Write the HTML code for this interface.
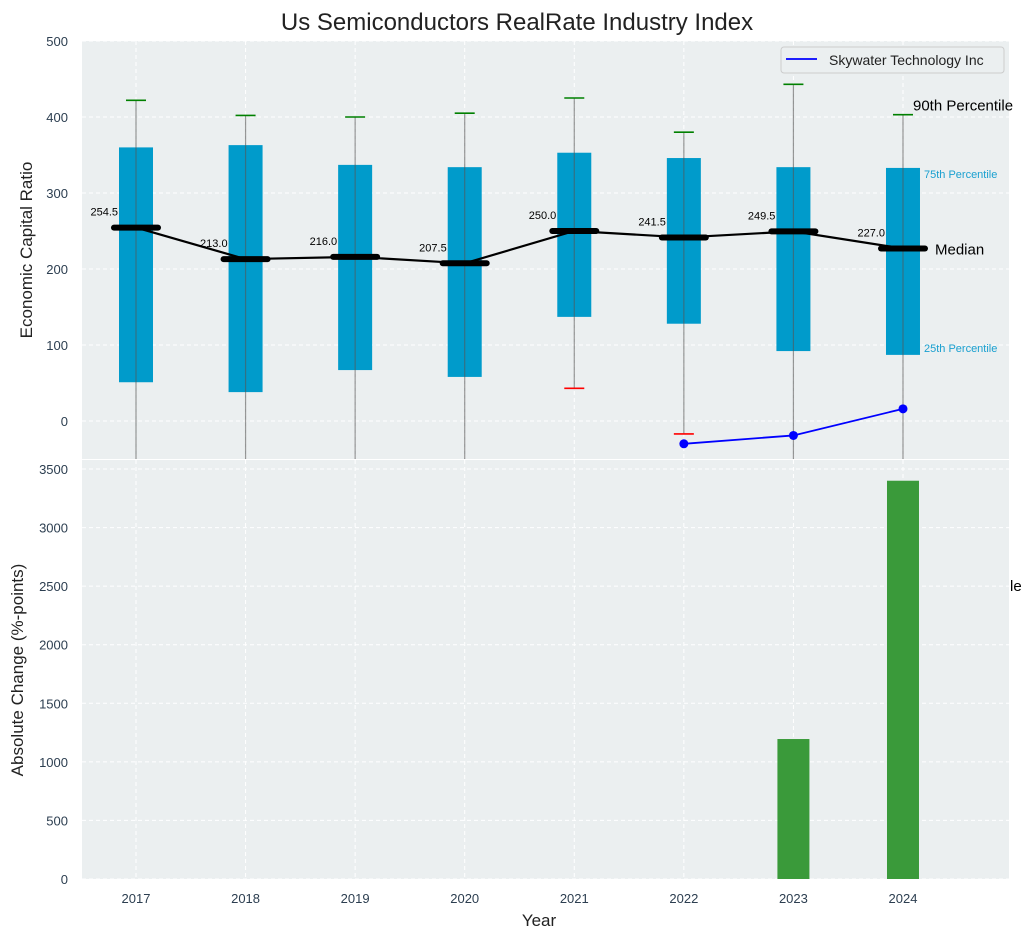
<!DOCTYPE html>
<html><head><meta charset="utf-8"><style>
body{margin:0;background:#fff;}
svg text{font-family:"Liberation Sans",sans-serif;}
</style></head><body>
<svg id="c" width="1034" height="940" xmlns="http://www.w3.org/2000/svg"></svg>
<script>
const years=[2017,2018,2019,2020,2021,2022,2023,2024];
const medians=[254.5,213.0,216.0,207.5,250.0,241.5,249.5,227.0];
const q1=[51,38,67,58,137,128,92,87];
const q3=[360,363,337,334,353,346,334,333];
const p90=[422,402,400,405,425,380,443,403];
const p10=[-200,-200,-200,-200,43,-17,-200,-200];
const skyYears=[2022,2023,2024];
const skyVals=[-30,-19,16];
const changeVals=[null,null,null,null,null,null,1195,3400];
const topTicks=[0,100,200,300,400,500];
const botTicks=[0,500,1000,1500,2000,2500,3000,3500];

const S=document.getElementById('c');const NS='http://www.w3.org/2000/svg';
function el(t,a,p){const e=document.createElementNS(NS,t);for(const k in a)e.setAttribute(k,a[k]);(p||S).appendChild(e);return e;}
const X=i=>136+i*109.57;
const Yt=v=>421-0.76*v;
const Yb=v=>879-v*0.11714;
const L=82,R=1009;
// defs clip
const defs=el('defs',{});
const cp=el('clipPath',{id:'ct'},defs);el('rect',{x:L,y:41,width:R-L,height:418},cp);
const cb=el('clipPath',{id:'cb'},defs);el('rect',{x:L,y:460,width:R-L,height:419},cb);
// axes backgrounds
let a=el('rect',{x:L,y:41,width:R-L,height:418,fill:'#ebeff0'});

a=el('rect',{x:L,y:460,width:R-L,height:419,fill:'#ebeff0'});

// grids
years.forEach((y,i)=>{
 el('line',{x1:X(i),x2:X(i),y1:41,y2:459,stroke:'#fff','stroke-dasharray':'4,3','stroke-width':1});
 el('line',{x1:X(i),x2:X(i),y1:460,y2:879,stroke:'#fff','stroke-dasharray':'4,3','stroke-width':1});
 const t=el('text',{x:X(i),y:903,'font-size':13,fill:'#2c3e50','text-anchor':'middle'});t.textContent=y;
 
});
topTicks.forEach(v=>{
 el('line',{x1:L,x2:R,y1:Yt(v),y2:Yt(v),stroke:'#fff','stroke-dasharray':'4,3'});
 const t=el('text',{x:68,y:Yt(v)+5,'font-size':13,fill:'#2c3e50','text-anchor':'end'});t.textContent=v;
 
});
botTicks.forEach(v=>{
 el('line',{x1:L,x2:R,y1:Yb(v),y2:Yb(v),stroke:'#fff','stroke-dasharray':'4,3'});
 const t=el('text',{x:68,y:Yb(v)+5,'font-size':13,fill:'#2c3e50','text-anchor':'end'});t.textContent=v;
 
});
const gT=el('g',{'clip-path':'url(#ct)'});
years.forEach((y,i)=>{
 const x=X(i);
 let b=el('rect',{x:x-17,y:Yt(q3[i]),width:34,height:Yt(q1[i])-Yt(q3[i]),fill:'#009bcb'},gT);
 
 let w=el('line',{x1:x,x2:x,y1:Yt(p90[i]),y2:Yt(p10[i]),stroke:'#555','stroke-opacity':0.6,'stroke-width':1.2},gT);
 
 let c=el('line',{x1:x-10,x2:x+10,y1:Yt(p90[i]),y2:Yt(p90[i]),stroke:'green','stroke-width':1.6},gT);
 
 c=el('line',{x1:x-10,x2:x+10,y1:Yt(p10[i]),y2:Yt(p10[i]),stroke:'red','stroke-width':1.6},gT);
 
});
let pts=medians.map((m,i)=>X(i)+','+Yt(m)).join(' ');
let ml=el('polyline',{points:pts,fill:'none',stroke:'#000','stroke-width':2.2},gT);

years.forEach((y,i)=>{
 const x=X(i),yy=Yt(medians[i]);
 let m=el('line',{x1:x-22,x2:x+22,y1:yy,y2:yy,stroke:'#000','stroke-width':6,'stroke-linecap':'round'},gT);
 
 let t=el('text',{x:x-18,y:yy-12,'font-size':11,fill:'#000','text-anchor':'end'});t.textContent=medians[i].toFixed(1);
 
});
pts=skyYears.map((y,k)=>X(years.indexOf(y))+','+Yt(skyVals[k])).join(' ');
let sl=el('polyline',{points:pts,fill:'none',stroke:'#0000ff','stroke-width':1.8},gT);

skyYears.forEach((y,k)=>{
 let d=el('circle',{cx:X(years.indexOf(y)),cy:Yt(skyVals[k]),r:4.5,fill:'#0000ff'},gT);
 
});
// annotations
function txt(x,y,s,sz,fill,name){const t=el('text',{x:x,y:y,'font-size':sz,fill:fill});t.textContent=s;return t;}
const li=7;
txt(X(li)+10,Yt(p90[li])-4,'90th Percentile',15,'#000','p90-annotation');
txt(X(li)+21,Yt(q3[li])+10,'75th Percentile',11,'#1aa0d0','p75-annotation');
txt(X(li)+21,Yt(q1[li])-3,'25th Percentile',11,'#1aa0d0','p25-annotation');
txt(X(li)+32,Yt(medians[li])+6,'Median',15,'#000','median-annotation');
txt(1010,591,'le',15,'#000','clipped-annotation');
// legend
const lg=el('g',{});
el('rect',{x:781,y:47,width:223,height:26,rx:3,fill:'#ebeff0',stroke:'#ccc'},lg);
el('line',{x1:786,x2:817,y1:59,y2:59,stroke:'#0000ff','stroke-width':1.8},lg);
let lt=el('text',{x:829,y:65,'font-size':14,fill:'#222'},lg);lt.textContent='Skywater Technology Inc';

// bottom bars
const gB=el('g',{'clip-path':'url(#cb)'});
changeVals.forEach((v,i)=>{
 if(v==null)return;
 let b=el('rect',{x:X(i)-16,y:Yb(v),width:32,height:Yb(0)-Yb(v),fill:'#3a9a3a'},gB);
 
});
// titles
txt(517,30,'Us Semiconductors RealRate Industry Index',24,'#222','chart-title').setAttribute('text-anchor','middle');
txt(539,926,'Year',17,'#222','x-axis-title').setAttribute('text-anchor','middle');
let yt=txt(0,0,'Economic Capital Ratio',17,'#222','top-y-axis-title');yt.setAttribute('text-anchor','middle');yt.setAttribute('transform','translate(32,250) rotate(-90)');
yt=txt(0,0,'Absolute Change (%-points)',17,'#222','bottom-y-axis-title');yt.setAttribute('text-anchor','middle');yt.setAttribute('transform','translate(23,670) rotate(-90)');
</script>
</body></html>
